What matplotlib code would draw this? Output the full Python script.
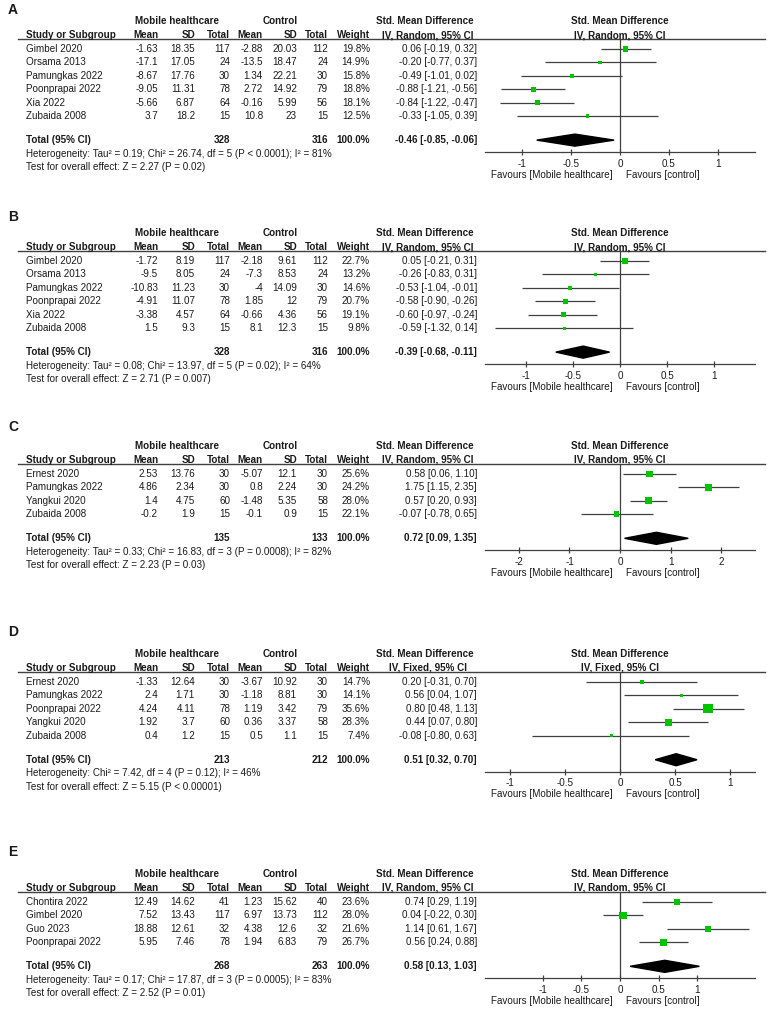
import matplotlib
matplotlib.use("agg")
import matplotlib.pyplot as plt
from matplotlib.lines import Line2D
from matplotlib.patches import Polygon

plt.rcParams['font.family'] = ['Liberation Sans', 'DejaVu Sans']

# ---- data ----
# A
a_study = ['Gimbel 2020', 'Orsama 2013', 'Pamungkas 2022', 'Poonprapai 2022', 'Xia 2022', 'Zubaida 2008']
a_m1 = [-1.63, -17.1, -8.67, -9.05, -5.66, 3.7]
a_sd1 = [18.35, 17.05, 17.76, 11.31, 6.87, 18.2]
a_n1 = [117, 24, 30, 78, 64, 15]
a_m2 = [-2.88, -13.5, 1.34, 2.72, -0.16, 10.8]
a_sd2 = [20.03, 18.47, 22.21, 14.92, 5.99, 23]
a_n2 = [112, 24, 30, 79, 56, 15]
a_w = [19.8, 14.9, 15.8, 18.8, 18.1, 12.5]
a_smd = [0.06, -0.20, -0.49, -0.88, -0.84, -0.33]
a_lo = [-0.19, -0.77, -1.01, -1.21, -1.22, -1.05]
a_hi = [0.32, 0.37, 0.02, -0.56, -0.47, 0.39]
a_tot = [328, 316]
a_pool = [-0.46, -0.85, -0.06]
a_het = 'Heterogeneity: Tau² = 0.19; Chi² = 26.74, df = 5 (P < 0.0001); I² = 81%'
a_test = 'Test for overall effect: Z = 2.27 (P = 0.02)'

# B
b_study = ['Gimbel 2020', 'Orsama 2013', 'Pamungkas 2022', 'Poonprapai 2022', 'Xia 2022', 'Zubaida 2008']
b_m1 = [-1.72, -9.5, -10.83, -4.91, -3.38, 1.5]
b_sd1 = [8.19, 8.05, 11.23, 11.07, 4.57, 9.3]
b_n1 = [117, 24, 30, 78, 64, 15]
b_m2 = [-2.18, -7.3, -4, 1.85, -0.66, 8.1]
b_sd2 = [9.61, 8.53, 14.09, 12, 4.36, 12.3]
b_n2 = [112, 24, 30, 79, 56, 15]
b_w = [22.7, 13.2, 14.6, 20.7, 19.1, 9.8]
b_smd = [0.05, -0.26, -0.53, -0.58, -0.60, -0.59]
b_lo = [-0.21, -0.83, -1.04, -0.90, -0.97, -1.32]
b_hi = [0.31, 0.31, -0.01, -0.26, -0.24, 0.14]
b_tot = [328, 316]
b_pool = [-0.39, -0.68, -0.11]
b_het = 'Heterogeneity: Tau² = 0.08; Chi² = 13.97, df = 5 (P = 0.02); I² = 64%'
b_test = 'Test for overall effect: Z = 2.71 (P = 0.007)'

# C
c_study = ['Ernest 2020', 'Pamungkas 2022', 'Yangkui 2020', 'Zubaida 2008']
c_m1 = [2.53, 4.86, 1.4, -0.2]
c_sd1 = [13.76, 2.34, 4.75, 1.9]
c_n1 = [30, 30, 60, 15]
c_m2 = [-5.07, 0.8, -1.48, -0.1]
c_sd2 = [12.1, 2.24, 5.35, 0.9]
c_n2 = [30, 30, 58, 15]
c_w = [25.6, 24.2, 28.0, 22.1]
c_smd = [0.58, 1.75, 0.57, -0.07]
c_lo = [0.06, 1.15, 0.20, -0.78]
c_hi = [1.10, 2.35, 0.93, 0.65]
c_tot = [135, 133]
c_pool = [0.72, 0.09, 1.35]
c_het = 'Heterogeneity: Tau² = 0.33; Chi² = 16.83, df = 3 (P = 0.0008); I² = 82%'
c_test = 'Test for overall effect: Z = 2.23 (P = 0.03)'

# D
d_study = ['Ernest 2020', 'Pamungkas 2022', 'Poonprapai 2022', 'Yangkui 2020', 'Zubaida 2008']
d_m1 = [-1.33, 2.4, 4.24, 1.92, 0.4]
d_sd1 = [12.64, 1.71, 4.11, 3.7, 1.2]
d_n1 = [30, 30, 78, 60, 15]
d_m2 = [-3.67, -1.18, 1.19, 0.36, 0.5]
d_sd2 = [10.92, 8.81, 3.42, 3.37, 1.1]
d_n2 = [30, 30, 79, 58, 15]
d_w = [14.7, 14.1, 35.6, 28.3, 7.4]
d_smd = [0.20, 0.56, 0.80, 0.44, -0.08]
d_lo = [-0.31, 0.04, 0.48, 0.07, -0.80]
d_hi = [0.70, 1.07, 1.13, 0.80, 0.63]
d_tot = [213, 212]
d_pool = [0.51, 0.32, 0.70]
d_het = 'Heterogeneity: Chi² = 7.42, df = 4 (P = 0.12); I² = 46%'
d_test = 'Test for overall effect: Z = 5.15 (P < 0.00001)'

# E
e_study = ['Chontira 2022', 'Gimbel 2020', 'Guo 2023', 'Poonprapai 2022']
e_m1 = [12.49, 7.52, 18.88, 5.95]
e_sd1 = [14.62, 13.43, 12.61, 7.46]
e_n1 = [41, 117, 32, 78]
e_m2 = [1.23, 6.97, 4.38, 1.94]
e_sd2 = [15.62, 13.73, 12.6, 6.83]
e_n2 = [40, 112, 32, 79]
e_w = [23.6, 28.0, 21.6, 26.7]
e_smd = [0.74, 0.04, 1.14, 0.56]
e_lo = [0.29, -0.22, 0.61, 0.24]
e_hi = [1.19, 0.30, 1.67, 0.88]
e_tot = [268, 263]
e_pool = [0.58, 0.13, 1.03]
e_het = 'Heterogeneity: Tau² = 0.17; Chi² = 17.87, df = 3 (P = 0.0005); I² = 83%'
e_test = 'Test for overall effect: Z = 2.52 (P = 0.01)'

ticks_half = [-1, -0.5, 0, 0.5, 1]
ticks_two = [-2, -1, 0, 1, 2]

# ---- layout / style ----
W, H = 767, 1009
PITCH = 13.4
TXT = '#1a1a1a'
LN = '#404040'
GREEN = '#00c400'
FS = 7.1
COLS = [158, 195, 230, 263, 297, 328, 370]   # right edges of numeric columns

panels = [
    dict(label='A', label_y=10, row0=49, xlim=1.378, ticks=ticks_half, method='IV, Random, 95% CI',
         study=a_study, m1=a_m1, sd1=a_sd1, n1=a_n1, m2=a_m2, sd2=a_sd2, n2=a_n2, w=a_w,
         smd=a_smd, lo=a_lo, hi=a_hi, tot=a_tot, pool=a_pool, het=a_het, test=a_test),
    dict(label='B', label_y=217, row0=261, xlim=1.43, ticks=ticks_half, method='IV, Random, 95% CI',
         study=b_study, m1=b_m1, sd1=b_sd1, n1=b_n1, m2=b_m2, sd2=b_sd2, n2=b_n2, w=b_w,
         smd=b_smd, lo=b_lo, hi=b_hi, tot=b_tot, pool=b_pool, het=b_het, test=b_test),
    dict(label='C', label_y=427, row0=474, xlim=2.67, ticks=ticks_two, method='IV, Random, 95% CI',
         study=c_study, m1=c_m1, sd1=c_sd1, n1=c_n1, m2=c_m2, sd2=c_sd2, n2=c_n2, w=c_w,
         smd=c_smd, lo=c_lo, hi=c_hi, tot=c_tot, pool=c_pool, het=c_het, test=c_test),
    dict(label='D', label_y=632, row0=682, xlim=1.227, ticks=ticks_half, method='IV, Fixed, 95% CI',
         study=d_study, m1=d_m1, sd1=d_sd1, n1=d_n1, m2=d_m2, sd2=d_sd2, n2=d_n2, w=d_w,
         smd=d_smd, lo=d_lo, hi=d_hi, tot=d_tot, pool=d_pool, het=d_het, test=d_test),
    dict(label='E', label_y=852, row0=902, xlim=1.75, ticks=ticks_half, method='IV, Random, 95% CI',
         study=e_study, m1=e_m1, sd1=e_sd1, n1=e_n1, m2=e_m2, sd2=e_sd2, n2=e_n2, w=e_w,
         smd=e_smd, lo=e_lo, hi=e_hi, tot=e_tot, pool=e_pool, het=e_het, test=e_test),
]

fig = plt.figure(figsize=(W / 100, H / 100), dpi=100)


def fx(x):
    return x / W


def fy(y):
    return 1 - y / H


def txt(x, y, s, ha='left', bold=False, size=FS):
    fig.text(fx(x), fy(y), s, ha=ha, va='center', fontsize=size, color=TXT,
             fontweight='bold' if bold else 'normal')


def ci(e, l, h):
    return '{:.2f} [{:.2f}, {:.2f}]'.format(e, l, h)


def draw_panel(p):
    y0 = p['row0']
    n = len(p['study'])
    txt(8, p['label_y'], p['label'], bold=True, size=10)

    # headers
    h1, h2 = y0 - 28, y0 - 14
    txt(177, h1, 'Mobile healthcare', ha='center', bold=True)
    txt(280, h1, 'Control', ha='center', bold=True)
    txt(425, h1, 'Std. Mean Difference', ha='center', bold=True)
    txt(620, h1, 'Std. Mean Difference', ha='center', bold=True)
    txt(26, h2, 'Study or Subgroup', bold=True)
    for x, s in zip(COLS, ['Mean', 'SD', 'Total', 'Mean', 'SD', 'Total', 'Weight']):
        txt(x, h2, s, ha='right', bold=True)
    txt(428, h2, p['method'], ha='center', bold=True)
    txt(620, h2, p['method'], ha='center', bold=True)
    fig.add_artist(Line2D([fx(18), fx(765)], [fy(y0 - 10)] * 2, color=LN, lw=1.0))

    # study rows
    for i in range(n):
        y = y0 + i * PITCH
        txt(26, y, p['study'][i])
        vals = ['{:g}'.format(p['m1'][i]), '{:g}'.format(p['sd1'][i]), str(p['n1'][i]),
                '{:g}'.format(p['m2'][i]), '{:g}'.format(p['sd2'][i]), str(p['n2'][i]),
                '{:.1f}%'.format(p['w'][i])]
        for x, s in zip(COLS, vals):
            txt(x, y, s, ha='right')
        txt(477, y, ci(p['smd'][i], p['lo'][i], p['hi'][i]), ha='right')

    # total rows
    yt = y0 + (n + 0.8) * PITCH
    txt(26, yt, 'Total (95% CI)', bold=True)
    txt(COLS[2], yt, str(p['tot'][0]), ha='right', bold=True)
    txt(COLS[5], yt, str(p['tot'][1]), ha='right', bold=True)
    txt(COLS[6], yt, '100.0%', ha='right', bold=True)
    txt(477, yt, ci(*p['pool']), ha='right', bold=True)
    txt(26, yt + 13.5, p['het'])
    txt(26, yt + 27, p['test'])

    # forest plot
    top = y0 - 10
    bot = y0 + (n + 1.7) * PITCH
    ax = fig.add_axes([fx(485), fy(bot), fx(755) - fx(485), (bot - top) / H])
    ax.patch.set_visible(False)
    ax.set_xlim(-p['xlim'], p['xlim'])
    ax.set_ylim(n + 1.7, -0.75)
    rows = list(range(n))
    ax.axvline(0, color=LN, lw=0.9, zorder=1)
    ax.hlines(rows, p['lo'], p['hi'], color=LN, lw=0.9, zorder=2)
    # square side (px) grows with study weight
    sizes = [(max(0.26 * w, 3.0) * 0.72) ** 2 for w in p['w']]
    ax.scatter(p['smd'], rows, marker='s', s=sizes, color=GREEN, linewidths=0, zorder=3)
    est, lo, hi = p['pool']
    r = n + 0.8
    ax.add_patch(Polygon([[lo, r], [est, r - 0.45], [hi, r], [est, r + 0.45]],
                         closed=True, color='black', zorder=3))
    for s in ['top', 'left', 'right']:
        ax.spines[s].set_visible(False)
    ax.spines['bottom'].set_color(LN)
    ax.spines['bottom'].set_linewidth(0.9)
    ax.set_yticks([])
    ax.set_xticks(p['ticks'])
    ax.set_xticklabels(['{:g}'.format(t) for t in p['ticks']])
    ax.tick_params(axis='x', direction='inout', length=4.5, width=0.9, color=LN,
                   labelsize=FS, labelcolor=TXT, pad=2.5)
    ax.annotate('Favours [Mobile healthcare]', xy=(0, 0), xycoords=('data', 'axes fraction'),
                xytext=(-5, -22.5 * 0.72), textcoords='offset points', ha='right', va='center',
                fontsize=FS, color=TXT)
    ax.annotate('Favours [control]', xy=(0, 0), xycoords=('data', 'axes fraction'),
                xytext=(4, -22.5 * 0.72), textcoords='offset points', ha='left', va='center',
                fontsize=FS, color=TXT)


for p in panels:
    draw_panel(p)

plt.savefig('out.png', dpi=100)
plt.close()
